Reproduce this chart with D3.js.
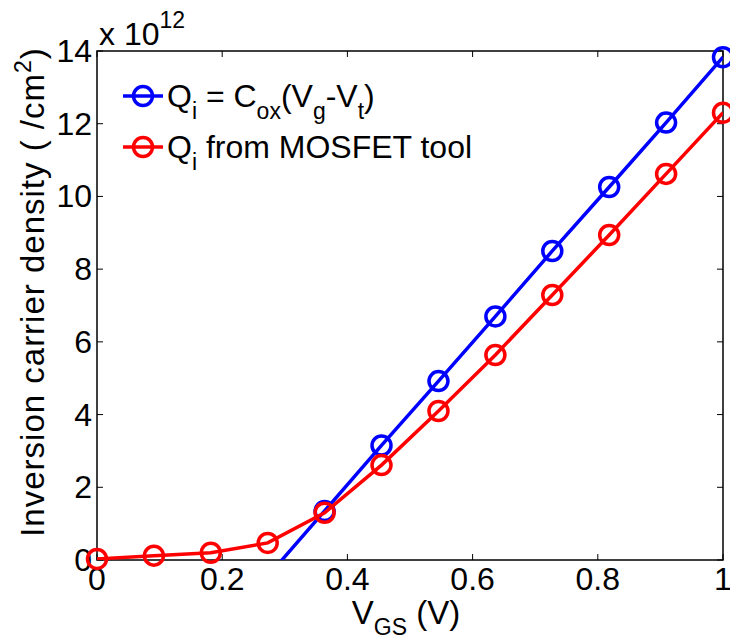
<!DOCTYPE html>
<html>
<head>
<meta charset="utf-8">
<script src="https://cdn.jsdelivr.net/npm/d3@7"></script>
<style>
  body { margin: 0; background: #fff; }
  text { font-family: "Liberation Sans", Arial, sans-serif; fill: #000; }
</style>
</head>
<body>
<div id="chart"></div>
<script>
// data (y values in units of 1e12 /cm^2)
var vgs = [0, 0.0909, 0.1818, 0.2727, 0.3636, 0.4545, 0.5455, 0.6364, 0.7273, 0.8182, 0.9091, 1.0];
var qiModel = [-5.8, -4.0, -2.2, -0.45, 1.35, 3.15, 4.92, 6.7, 8.5, 10.26, 12.03, 13.83];
var qiTool = [0.03, 0.12, 0.2, 0.47, 1.3, 2.61, 4.1, 5.64, 7.29, 8.94, 10.62, 12.3];
var xTicks = [0, 0.2, 0.4, 0.6, 0.8, 1];
var yTicks = [0, 2, 4, 6, 8, 10, 12, 14];

var width = 730, height = 641;
var plotL = 97, plotR = 723, plotT = 51, plotB = 560;
var fs = 32, fsSub = 23;

var svg = d3.select('#chart').append('svg')
  .attr('width', width)
  .attr('height', height);

var x = d3.scaleLinear().domain([0, 1]).range([plotL, plotR]);
var y = d3.scaleLinear().domain([0, 14]).range([plotB, plotT]);

// clip lines to the axes box
svg.append('clipPath').attr('id', 'clip')
  .append('rect')
  .attr('x', plotL).attr('y', plotT)
  .attr('width', plotR - plotL).attr('height', plotB - plotT);

// axes box
svg.append('rect')
  .attr('x', plotL).attr('y', plotT)
  .attr('width', plotR - plotL).attr('height', plotB - plotT)
  .attr('fill', 'none').attr('stroke', '#000').attr('stroke-width', 1.5);

var tickLen = 6;
// x ticks (bottom + top, inward)
xTicks.forEach(function(t) {
  svg.append('line').attr('x1', x(t)).attr('x2', x(t))
    .attr('y1', plotB).attr('y2', plotB - tickLen)
    .attr('stroke', '#000').attr('stroke-width', 1);
  svg.append('line').attr('x1', x(t)).attr('x2', x(t))
    .attr('y1', plotT).attr('y2', plotT + tickLen)
    .attr('stroke', '#000').attr('stroke-width', 1);
  svg.append('text')
    .attr('x', x(t)).attr('y', plotB + 30)
    .attr('text-anchor', 'middle')
    .attr('font-size', fs)
    .text(d3.format('~g')(t));
});
// y ticks (left + right, inward)
yTicks.forEach(function(t) {
  svg.append('line').attr('x1', plotL).attr('x2', plotL + tickLen)
    .attr('y1', y(t)).attr('y2', y(t))
    .attr('stroke', '#000').attr('stroke-width', 1);
  svg.append('line').attr('x1', plotR).attr('x2', plotR - tickLen)
    .attr('y1', y(t)).attr('y2', y(t))
    .attr('stroke', '#000').attr('stroke-width', 1);
  svg.append('text')
    .attr('x', plotL - 5).attr('y', y(t) + 11)
    .attr('text-anchor', 'end')
    .attr('font-size', fs)
    .text(t);
});

// exponent label
var ex = svg.append('text').attr('x', 99).attr('y', 45).attr('font-size', fs);
ex.append('tspan').text('x 10');
ex.append('tspan').attr('dy', -17).attr('font-size', fsSub).text('12');

// x label
var xl = svg.append('text').attr('x', 406).attr('y', 624)
  .attr('text-anchor', 'middle').attr('font-size', 33);
xl.append('tspan').text('V');
xl.append('tspan').attr('dy', 11).attr('font-size', fsSub).text('GS');
xl.append('tspan').attr('dy', -11).text(' (V)');

// y label
var yl = svg.append('text')
  .attr('transform', 'translate(44,' + 292 + ') rotate(-90)')
  .attr('text-anchor', 'middle').attr('font-size', 33)
  .attr('letter-spacing', 1);
yl.append('tspan').text('Inversion carrier density ( /cm');
yl.append('tspan').attr('dy', -13).attr('font-size', fsSub).text('2');
yl.append('tspan').attr('dy', 13).text(')');

var series = [
  { name: 'model', values: qiModel, color: '#0000ff' },
  { name: 'tool', values: qiTool, color: '#ff0000' }
];

var line = d3.line()
  .x(function(d, i) { return x(vgs[i]); })
  .y(function(d) { return y(d); });

series.forEach(function(s) {
  svg.append('path')
    .datum(s.values)
    .attr('clip-path', 'url(#clip)')
    .attr('d', line)
    .attr('fill', 'none')
    .attr('stroke', s.color)
    .attr('stroke-width', 3.5);

  svg.selectAll('.m-' + s.name)
    .data(s.values.map(function(v, i) { return { x: vgs[i], y: v }; })
      .filter(function(d) { return d.y >= 0; }))
    .enter().append('circle')
    .attr('class', 'm-' + s.name)
    .attr('cx', function(d) { return x(d.x); })
    .attr('cy', function(d) { return y(d.y); })
    .attr('r', 9.5)
    .attr('fill', 'none')
    .attr('stroke', s.color)
    .attr('stroke-width', 3.5);
});

// legend
var legend = svg.append('g');
var rows = [
  { color: '#0000ff', y: 96 },
  { color: '#ff0000', y: 147 }
];
rows.forEach(function(r) {
  legend.append('line').attr('x1', 123).attr('x2', 163)
    .attr('y1', r.y).attr('y2', r.y)
    .attr('stroke', r.color).attr('stroke-width', 3.5);
  legend.append('circle').attr('cx', 143).attr('cy', r.y).attr('r', 9.5)
    .attr('fill', 'none').attr('stroke', r.color).attr('stroke-width', 3.5);
});

var t1 = legend.append('text').attr('x', 167).attr('y', 107).attr('font-size', fs);
t1.append('tspan').text('Q');
t1.append('tspan').attr('dy', 12).attr('font-size', fsSub).text('i');
t1.append('tspan').attr('dy', -12).text(' = C');
t1.append('tspan').attr('dy', 12).attr('font-size', fsSub).text('ox');
t1.append('tspan').attr('dy', -12).text('(V');
t1.append('tspan').attr('dy', 12).attr('font-size', fsSub).text('g');
t1.append('tspan').attr('dy', -12).text('-V');
t1.append('tspan').attr('dy', 12).attr('font-size', fsSub).text('t');
t1.append('tspan').attr('dy', -12).text(')');

var t2 = legend.append('text').attr('x', 167).attr('y', 158).attr('font-size', fs);
t2.append('tspan').text('Q');
t2.append('tspan').attr('dy', 12).attr('font-size', fsSub).text('i');
t2.append('tspan').attr('dy', -12).text(' from MOSFET tool');
</script>
</body>
</html>
